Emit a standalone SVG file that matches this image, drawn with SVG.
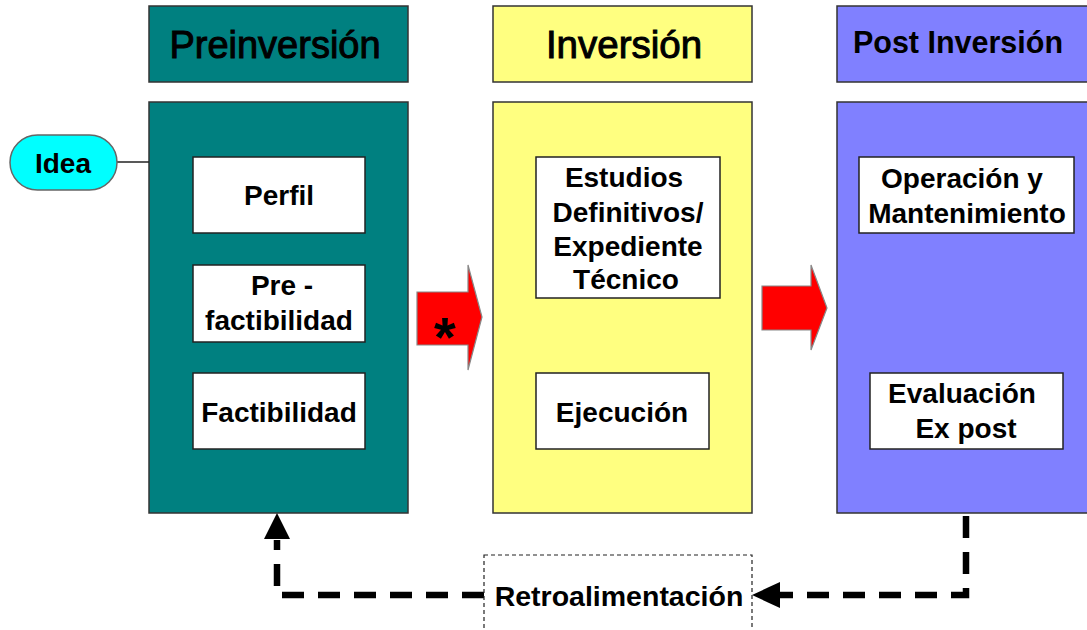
<svg xmlns="http://www.w3.org/2000/svg" width="1087" height="630" viewBox="0 0 1087 630">
<style>
.phase{stroke:#333;stroke-width:1.5}
.teal{fill:#008080}
.yel{fill:#FFFF80}
.blu{fill:#8080FF}
.box{fill:#fff;stroke:#222;stroke-width:1.5}
.hd{font-family:"Liberation Sans",Arial,sans-serif;fill:#000;text-anchor:middle;stroke:#000;stroke-width:1}
.t{font-family:"Liberation Sans",Arial,sans-serif;font-weight:bold;font-size:28px;fill:#000;text-anchor:middle}
.arrow{fill:#FF0000;stroke:#888;stroke-width:1.2}
.dash{fill:none;stroke:#000;stroke-width:6.5;stroke-dasharray:22 14}
</style>
<rect width="1087" height="630" fill="#fff"/>

<g id="preinversion-header">
<rect class="phase teal" x="149" y="6" width="259" height="76"/>
<text class="hd" x="275" y="58" font-size="38">Preinversión</text>
</g>
<g id="preinversion">
<rect class="phase teal" x="149" y="102" width="259" height="411"/>
</g>
<g id="inversion-header">
<rect class="phase yel" x="493" y="6" width="259" height="76"/>
<text class="hd" x="624" y="58" font-size="38.5">Inversión</text>
</g>
<g id="inversion">
<rect class="phase yel" x="493" y="102" width="259" height="411"/>
</g>
<g id="postinversion-header">
<rect class="phase blu" x="837" y="6" width="260" height="76"/>
<text class="t" x="958" y="53" style="font-size:30.5px">Post Inversión</text>
</g>
<g id="postinversion">
<rect class="phase blu" x="837" y="102" width="260" height="411"/>
</g>

<g id="connectors">
<line x1="117" y1="162" x2="149" y2="162" stroke="#222" stroke-width="1.5"/>
<path class="dash" d="M966,516 V595 H790"/>
<path d="M752,595 L780,582 L780,608 z" fill="#000"/>
<line x1="778" y1="595" x2="790" y2="595" stroke="#000" stroke-width="6.5"/>
<path class="dash" d="M484,595 H277 V540"/>
<path d="M277,513 L264,539 L290,539 z" fill="#000"/>
</g>

<g id="idea">
<rect x="10" y="135" width="107" height="55" rx="27.5" ry="27.5" fill="#00FFFF" stroke="#666" stroke-width="1.5"/>
<text class="t" x="63" y="173">Idea</text>
</g>

<g id="perfil">
<rect class="box" x="193" y="157" width="172" height="76"/>
<text class="t" x="279" y="205">Perfil</text>
</g>
<g id="prefactibilidad">
<rect class="box" x="193" y="265" width="172" height="77"/>
<text class="t" x="282" y="295">Pre -</text>
<text class="t" x="279" y="330">factibilidad</text>
</g>
<g id="factibilidad">
<rect class="box" x="193" y="373" width="172" height="76"/>
<text class="t" x="279" y="422">Factibilidad</text>
</g>

<g id="estudios">
<rect class="box" x="536" y="157" width="184" height="141"/>
<text class="t" x="624" y="187">Estudios</text>
<text class="t" x="628" y="222">Definitivos/</text>
<text class="t" x="628" y="256">Expediente</text>
<text class="t" x="626" y="289">Técnico</text>
</g>
<g id="ejecucion">
<rect class="box" x="536" y="373" width="173" height="76"/>
<text class="t" x="622" y="422">Ejecución</text>
</g>

<g id="operacion">
<rect class="box" x="859" y="157" width="215" height="76"/>
<text class="t" x="962" y="188">Operación y</text>
<text class="t" x="967" y="223">Mantenimiento</text>
</g>
<g id="evaluacion">
<rect class="box" x="870" y="373" width="193" height="76"/>
<text class="t" x="962" y="403">Evaluación</text>
<text class="t" x="966" y="438">Ex post</text>
</g>

<g id="arrow1">
<path class="arrow" d="M417,292 H468 V265 L482,317 L468,370 V345 H417 z"/>
<text x="445" y="356" font-family="Liberation Sans,Arial,sans-serif" font-weight="bold" font-size="56" text-anchor="middle" fill="#000">*</text>
</g>
<g id="arrow2">
<path class="arrow" d="M762,286 H811 V265 L827,308 L811,350 V330 H762 z"/>
</g>

<g id="retroalimentacion">
<rect x="484" y="555" width="268" height="80" fill="#fff" stroke="#222" stroke-width="1.2" stroke-dasharray="4 3"/>
<text class="t" x="619" y="606" style="font-size:28.5px">Retroalimentación</text>
</g>
</svg>
